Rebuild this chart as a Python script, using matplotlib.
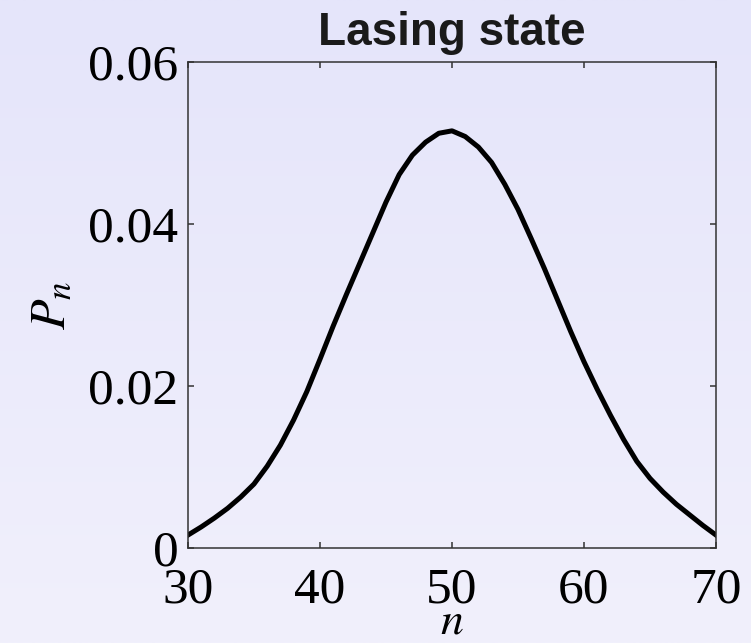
import numpy as np
import matplotlib
matplotlib.use("Agg")
import matplotlib.pyplot as plt
from matplotlib.colors import LinearSegmentedColormap

# photon number distribution
n_vals = np.arange(30, 71)
p_vals = [0.0016, 0.0026, 0.0037, 0.0049, 0.0063, 0.0079, 0.0101, 0.0127,
          0.0158, 0.0193, 0.0233, 0.0274, 0.0313, 0.0351, 0.0389, 0.0427,
          0.0461, 0.0485, 0.0501, 0.0512, 0.0515, 0.0508, 0.0495, 0.0476,
          0.0449, 0.0418, 0.0382, 0.0345, 0.0306, 0.0267, 0.0230, 0.0196,
          0.0164, 0.0134, 0.0107, 0.0086, 0.0069, 0.0054, 0.0041, 0.0028,
          0.0016]

xticks = [30, 40, 50, 60, 70]
yticks = [0, 0.02, 0.04, 0.06]
ytick_labels = ["0", "0.02", "0.04", "0.06"]
title = "Lasing state"

plt.rcParams['mathtext.fontset'] = 'stix'

fig = plt.figure(figsize=(7.51, 6.43), dpi=100)

# lavender gradient backdrop
bg = fig.add_axes([0, 0, 1, 1], zorder=-10)
cmap = LinearSegmentedColormap.from_list("bg", ["#E5E5FA", "#F1F0FC"])
bg.imshow(np.linspace(0, 1, 256).reshape(-1, 1), aspect='auto', cmap=cmap,
          extent=[0, 1, 0, 1], origin='upper')
bg.axis('off')

ax = fig.add_axes([0.2503, 0.1477, 0.7031, 0.7559])
ax.set_facecolor('none')
ax.plot(n_vals, p_vals, color='black', lw=3.6, solid_joinstyle='round')

ax.set_xlim(30, 70)
ax.set_ylim(0, 0.06)
ax.set_xticks(xticks)
ax.set_yticks(yticks)
ax.set_yticklabels(ytick_labels)

for s in ax.spines.values():
    s.set_color('#333333')
    s.set_linewidth(1.1)

ax.tick_params(direction='in', length=4, width=1.1, color='#333333',
               top=True, right=True, labelsize=37)
ax.tick_params(axis='x', pad=14)
ax.tick_params(axis='y', pad=7)
for lab in ax.get_xticklabels() + ax.get_yticklabels():
    lab.set_fontfamily('Liberation Serif')

ax.set_xlabel(r'$n$', fontsize=33, labelpad=-11)
ax.set_ylabel(r'$P_n$', fontsize=36, labelpad=10)
ax.set_title(title, fontsize=33, fontweight='bold', family='Liberation Sans',
             color='#1a1a1a', pad=12)

fig.savefig("out.png", dpi=100)
